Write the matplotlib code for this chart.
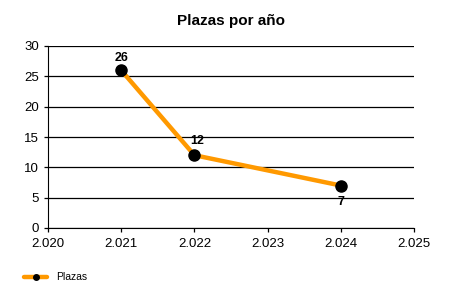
import matplotlib
matplotlib.use("Agg")
import matplotlib.pyplot as plt
from matplotlib.ticker import FuncFormatter, MultipleLocator

years = [2021, 2022, 2024]
plazas = [26, 12, 7]
label_offsets = [(0, 9), (2, 10), (0, -12)]

plt.rcParams['font.family'] = ['Liberation Sans', 'DejaVu Sans']

fig = plt.figure(figsize=(4.5, 3.0), dpi=100)
ax = fig.add_axes([48/450, 1-228/300, (414-48)/450, (228-46)/300])

ax.plot(years, plazas, color='#FF9900', linewidth=3.2, marker='o',
        markersize=8, markerfacecolor='black', markeredgecolor='black',
        label='Plazas', zorder=3, solid_capstyle='round')
for x, y, off in zip(years, plazas, label_offsets):
    ax.annotate(str(y), (x, y), xytext=off, textcoords='offset points',
                ha='center', va='center', fontsize=9, fontweight='bold')

ax.set_xlim(2020, 2025)
ax.set_ylim(0, 30)
ax.xaxis.set_major_locator(MultipleLocator(1))
ax.yaxis.set_major_locator(MultipleLocator(5))
ax.xaxis.set_major_formatter(FuncFormatter(lambda v, p: f"{int(round(v)):,}".replace(',', '.')))
ax.grid(axis='y', color='black', linewidth=0.9)
ax.set_axisbelow(True)
for s in ['top', 'right']:
    ax.spines[s].set_visible(False)
ax.tick_params(axis='both', labelsize=9.5, length=3, width=0.9)
ax.tick_params(axis='x', pad=4)
ax.set_title('Plazas por año', fontsize=11, fontweight='bold', pad=15)

fig.legend(loc='lower left', bbox_to_anchor=(0.045, 0.045), frameon=False,
           fontsize=7.5, handlelength=2.2, markerscale=0.5, borderaxespad=0)

fig.savefig('out.png', dpi=100)
